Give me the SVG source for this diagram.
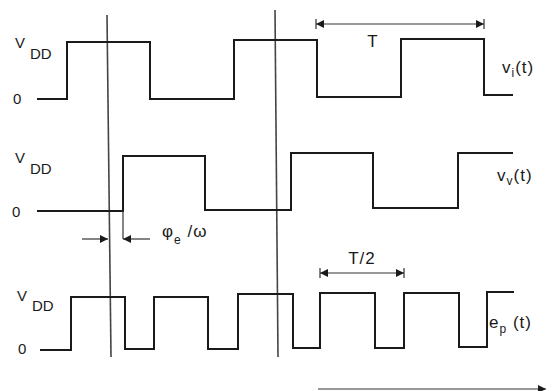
<svg xmlns="http://www.w3.org/2000/svg" width="556" height="391" viewBox="0 0 556 391">
<defs>
<marker id="ah" viewBox="0 0 10 10" refX="10" refY="5" markerWidth="14" markerHeight="8" markerUnits="userSpaceOnUse" orient="auto-start-reverse">
<path d="M0,0 L10,5 L0,10 Z" fill="#1a1a1a"/>
</marker>
<style>
.w{fill:none;stroke:#1a1a1a;stroke-width:2;stroke-linejoin:miter}
.g{fill:none;stroke:#444;stroke-width:1.6}
.d{fill:none;stroke:#333;stroke-width:1.2}
.t{font-family:"Liberation Sans",Arial,sans-serif;fill:#1a1a1a;font-size:14px}
.l{font-size:15px}
.r{font-size:17px;letter-spacing:1px}
.s{font-size:12px}
</style>
</defs>
<rect width="556" height="391" fill="#fff"/>
<g id="guides">
<path class="g" d="M107,15 L111,357"/>
<path class="g" d="M275,10 L278,357"/>
</g>
<g id="vi">
<path class="w" d="M37,99 H67 V42 H150 V99 H234 V40 H317 V97 H401 V39 H484 V95 H513"/>
<text class="t l" x="15" y="48">V</text><text class="t l" x="30" y="59">DD</text>
<text class="t l" x="13" y="104">0</text>
<text class="t r" x="502" y="73">v<tspan class="s" dy="4">i</tspan><tspan dy="-4">(t)</tspan></text>
</g>
<g id="vv">
<path class="w" d="M37,211 H123 V156 H205 V210 H291 V153 H373 V208 H458 V153 H513"/>
<text class="t l" x="15" y="163">V</text><text class="t l" x="30" y="174">DD</text>
<text class="t l" x="12" y="217">0</text>
<text class="t r" x="497" y="181">v<tspan class="s" dy="4">v</tspan><tspan dy="-4">(t)</tspan></text>
</g>
<g id="ep">
<path class="w" d="M40,350 H71 V297 H125 V349 H154 V297 H208 V349 H238 V294 H293 V348 H320 V293 H375 V348 H404 V293 H459 V347 H487 V292 H514"/>
<text class="t l" x="17" y="301">V</text><text class="t l" x="32" y="311">DD</text>
<text class="t l" x="18" y="354">0</text>
<text class="t r" x="489" y="328">e<tspan class="s" dy="5">p</tspan><tspan dy="-5"> (t)</tspan></text>
</g>
<g id="connectors">
<path class="d" d="M316,24 H484" marker-start="url(#ah)" marker-end="url(#ah)"/>
<path class="d" d="M316,19 V29 M484,19 V29"/>
<path class="d" d="M320,273 H404" marker-start="url(#ah)" marker-end="url(#ah)"/>
<path class="d" d="M320,268 V278 M404,268 V278"/>
<path class="d" d="M123,211 V239"/>
<path class="d" d="M82,239 H108" marker-end="url(#ah)"/>
<path class="d" d="M150,239 H123" marker-end="url(#ah)"/>
<path class="d" d="M318,389 H546" marker-end="url(#ah)"/>
</g>
<g id="labels">
<text class="t r" x="373" y="47" text-anchor="middle">T</text>
<text class="t r" x="362" y="264" text-anchor="middle">T/2</text>
<text class="t r" x="162" y="237">φ<tspan class="s" dy="7">e</tspan><tspan dy="-7"> /ω</tspan></text>
</g>
</svg>
